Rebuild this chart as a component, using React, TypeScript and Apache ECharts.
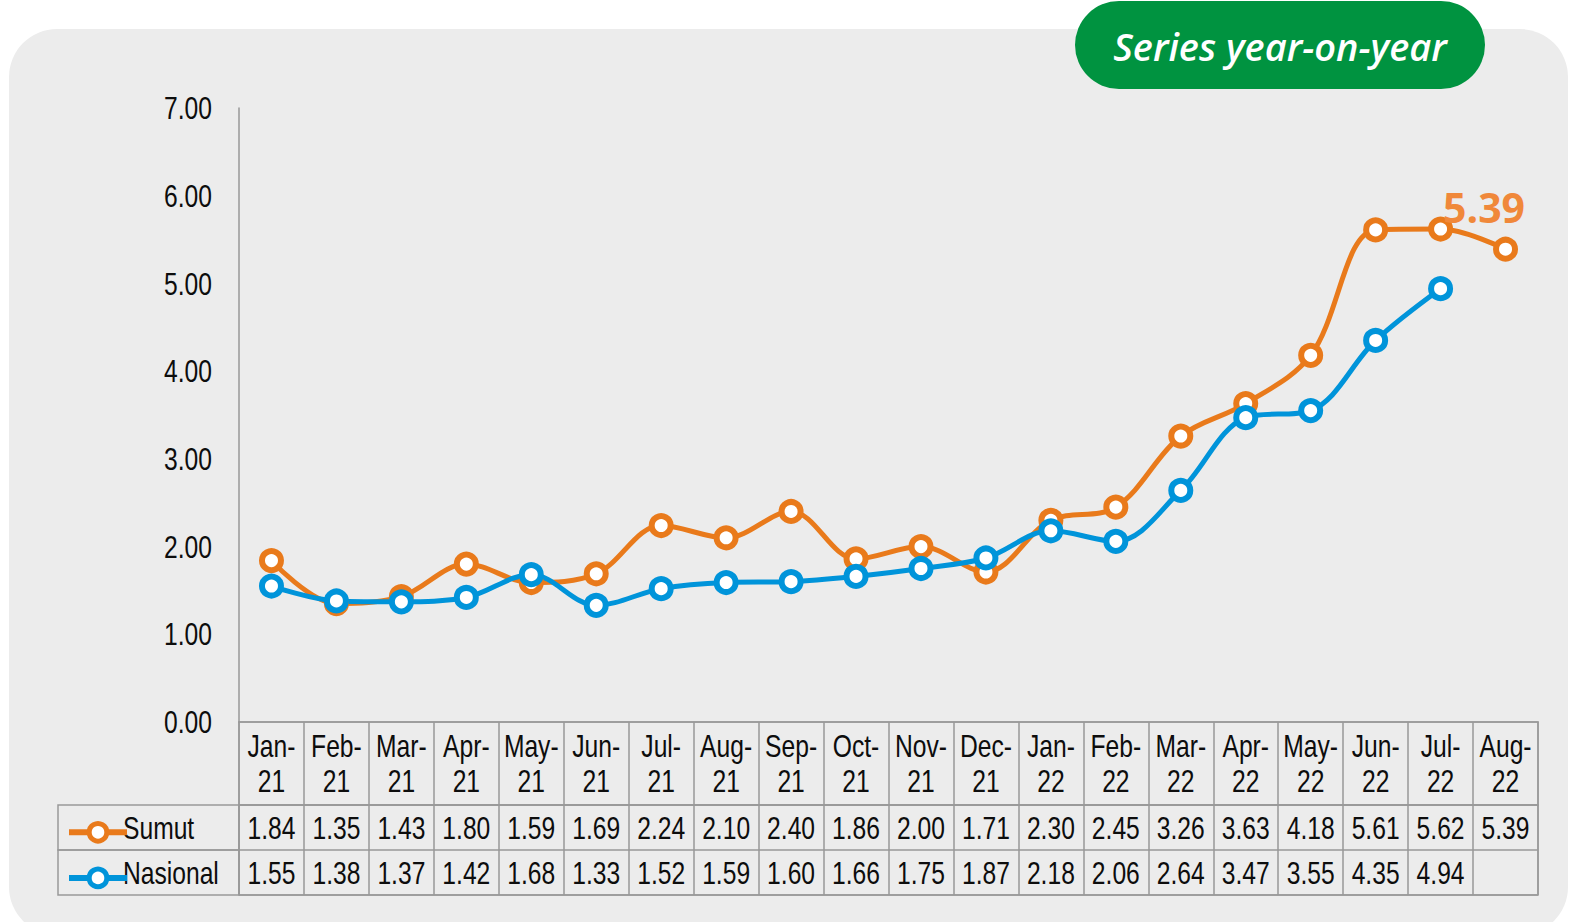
import React, { useEffect, useRef } from "react";
import * as echarts from "echarts";

const categories = ["Jan-21","Feb-21","Mar-21","Apr-21","May-21","Jun-21","Jul-21","Aug-21","Sep-21","Oct-21","Nov-21","Dec-21","Jan-22","Feb-22","Mar-22","Apr-22","May-22","Jun-22","Jul-22","Aug-22"];
const sumut = [1.84,1.35,1.43,1.80,1.59,1.69,2.24,2.10,2.40,1.86,2.00,1.71,2.30,2.45,3.26,3.63,4.18,5.61,5.62,5.39];
const nasional: (number | null)[] = [1.55,1.38,1.37,1.42,1.68,1.33,1.52,1.59,1.60,1.66,1.75,1.87,2.18,2.06,2.64,3.47,3.55,4.35,4.94,null];
const rowNames = ["Sumut", "Nasional"];
const yTicks = [0, 1, 2, 3, 4, 5, 6, 7];
const title = "Series year-on-year";

const ORANGE = "#E97A1B";
const BLUE = "#0094DA";
const FONT = "'Liberation Sans', Arial, sans-serif";
const FS = 32;
const SX = 0.77;
const GRID_C = "#999999";

function narrowText(x: number, y: number, text: string, align: string, extra: any = {}) {
  return {
    type: "text",
    x, y, scaleX: SX,
    style: { text, fill: "#0d0d0d", fontSize: FS, fontFamily: FONT, align, verticalAlign: "middle", ...extra },
  };
}

export default function App() {
  const ref = useRef<HTMLDivElement>(null);
  useEffect(() => {
    const chart = echarts.init(ref.current!, null, { renderer: "svg" });
    const tableData: any[] = [];
    categories.forEach((c, i) => {
      tableData.push([c, rowNames[0], sumut[i]]);
      if (nasional[i] != null) tableData.push([c, rowNames[1], nasional[i]]);
    });
    const lastIdx = sumut.length - 1;
    const option: any = {
      animation: false,
      backgroundColor: "#ffffff",
      textStyle: { fontFamily: FONT },
      graphic: [
        { type: "rect", z: -10, shape: { x: 9, y: 29, width: 1559, height: 906, r: 48 }, style: { fill: "#ececec" } },
        { type: "rect", shape: { x: 58, y: 805, width: 181, height: 45 }, style: { fill: "none", stroke: GRID_C, lineWidth: 1.5 } },
        { type: "rect", shape: { x: 58, y: 850, width: 181, height: 45 }, style: { fill: "none", stroke: GRID_C, lineWidth: 1.5 } },
        { type: "rect", z: 10, shape: { x: 1075, y: 1, width: 410, height: 88, r: 44 }, style: { fill: "#009340" } },
        {
          type: "text", z: 11, x: 1280, y: 46,
          style: { text: title, fill: "#ffffff", font: "italic 600 38px 'Open Sans', sans-serif", align: "center", verticalAlign: "middle" },
        },
      ],
      legend: {
        orient: "vertical",
        left: 61,
        top: 816,
        itemGap: 23,
        itemWidth: 58,
        itemHeight: 22,
        data: rowNames,
        formatter: () => "",
        lineStyle: { width: 6 },
        itemStyle: { borderWidth: 5 },
      },
      grid: [
        { left: 239, top: 108, width: 1299, height: 614 },
        { left: 239, top: 722, width: 1299, height: 83, show: true, borderColor: GRID_C, borderWidth: 1.5, backgroundColor: "transparent" },
        { left: 239, top: 805, width: 1299, height: 90, show: true, borderColor: GRID_C, borderWidth: 1.5, backgroundColor: "transparent" },
      ],
      xAxis: [
        {
          gridIndex: 0, type: "category", data: categories, boundaryGap: true,
          axisLine: { show: true, lineStyle: { color: GRID_C, width: 1.5 } },
          axisTick: { show: false },
          axisLabel: { show: false },
        },
        {
          gridIndex: 1, type: "category", data: categories, boundaryGap: true,
          axisLine: { show: false }, axisTick: { show: false }, axisLabel: { show: false },
          splitLine: { show: true, interval: 0, lineStyle: { color: GRID_C, width: 1.5 } },
        },
        {
          gridIndex: 2, type: "category", data: categories, boundaryGap: true,
          axisLine: { show: false }, axisTick: { show: false }, axisLabel: { show: false },
          splitLine: { show: true, interval: 0, lineStyle: { color: GRID_C, width: 1.5 } },
        },
      ],
      yAxis: [
        {
          gridIndex: 0, type: "value", min: 0, max: 7, interval: 1,
          axisLine: { show: true, lineStyle: { color: GRID_C, width: 1.5 } },
          axisTick: { show: false },
          splitLine: { show: false },
          axisLabel: { show: false },
        },
        { gridIndex: 1, type: "value", show: false, min: 0, max: 1 },
        {
          gridIndex: 2, type: "category", data: [rowNames[1], rowNames[0]], boundaryGap: true,
          axisLine: { show: false }, axisTick: { show: false }, axisLabel: { show: false },
          splitLine: { show: true, interval: 0, lineStyle: { color: GRID_C, width: 1.5 } },
        },
      ],
      series: [
        {
          name: rowNames[0], type: "line", xAxisIndex: 0, yAxisIndex: 0, data: sumut, smooth: 0.35,
          symbol: "circle", symbolSize: 19, showAllSymbol: true,
          lineStyle: { color: ORANGE, width: 5 },
          itemStyle: { color: "#ffffff", borderColor: ORANGE, borderWidth: 6 },
          label: {
            show: true,
            formatter: (p: any) => (p.dataIndex === lastIdx ? Number(p.value).toFixed(2) : ""),
            position: [-50, -50],
            color: "#F0883A", fontSize: 41, fontWeight: "bold", fontFamily: "'Open Sans', sans-serif",
          },
        },
        {
          name: rowNames[1], type: "line", xAxisIndex: 0, yAxisIndex: 0, data: nasional, smooth: 0.35,
          symbol: "circle", symbolSize: 19, showAllSymbol: true,
          lineStyle: { color: BLUE, width: 5 },
          itemStyle: { color: "#ffffff", borderColor: BLUE, borderWidth: 6 },
        },
        // y-axis tick labels
        {
          type: "custom", xAxisIndex: 0, yAxisIndex: 0, silent: true, clip: false,
          data: yTicks.map((v) => [categories[0], v]),
          renderItem: (params: any, api: any) => {
            const v = api.value(1);
            const p = api.coord([api.value(0), v]);
            const half = api.size([1, 0])[0] / 2;
            return narrowText(p[0] - half - 27, p[1], Number(v).toFixed(2), "right");
          },
        },
        // header row (category labels)
        {
          type: "custom", xAxisIndex: 1, yAxisIndex: 1, silent: true, clip: false,
          data: categories.map((c) => [c, 0.5]),
          renderItem: (params: any, api: any) => {
            const p = api.coord([api.value(0), api.value(1)]);
            const c = categories[params.dataIndex];
            return narrowText(p[0], p[1], c.replace("-", "-\n"), "center", { lineHeight: 35 });
          },
        },
        // table values
        {
          type: "custom", xAxisIndex: 2, yAxisIndex: 2, silent: true, clip: false,
          data: tableData,
          renderItem: (params: any, api: any) => {
            const p = api.coord([api.value(0), api.value(1)]);
            return narrowText(p[0], p[1], Number(api.value(2)).toFixed(2), "center");
          },
        },
        // row names
        {
          type: "custom", xAxisIndex: 2, yAxisIndex: 2, silent: true, clip: false,
          data: rowNames.map((r) => [categories[0], r]),
          renderItem: (params: any, api: any) => {
            const p = api.coord([api.value(0), api.value(1)]);
            const half = api.size([1, 0])[0] / 2;
            return narrowText(p[0] - half - 116, p[1], rowNames[params.dataIndex], "left");
          },
        },
      ],
    };
    chart.setOption(option);
    return () => chart.dispose();
  }, []);
  return <div ref={ref} style={{ position: "absolute", left: 0, top: 0, width: 1582, height: 922 }} />;
}
